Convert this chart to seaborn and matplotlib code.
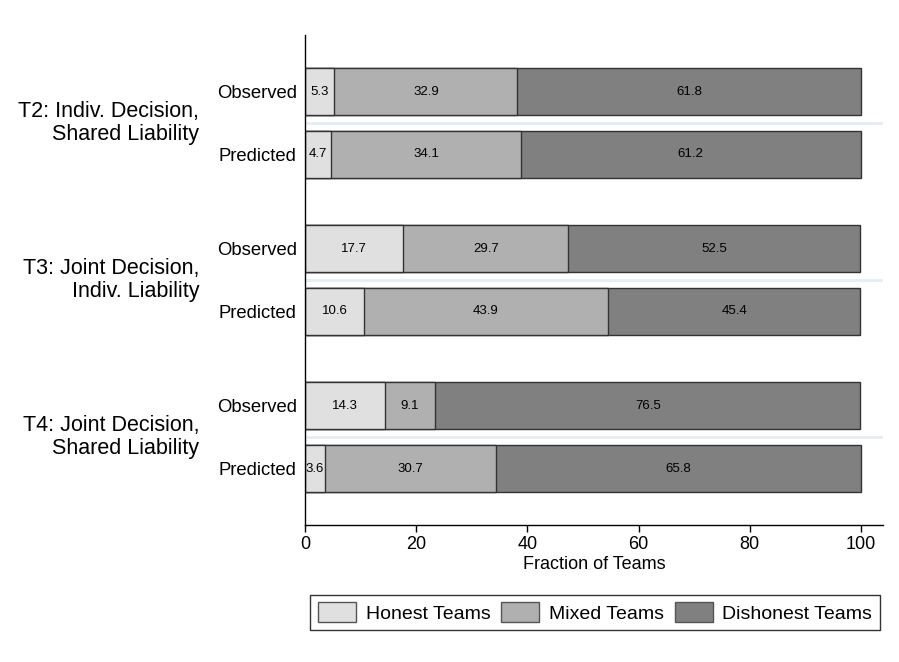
import numpy as np
import pandas as pd
import matplotlib
matplotlib.use("Agg")
import matplotlib.pyplot as plt
import matplotlib.transforms as mtransforms
from matplotlib.patches import Patch
import seaborn as sns

# ---------------------------
# Data
# ---------------------------
treatments = ["T2: Indiv. Decision,\nShared Liability",
              "T3: Joint Decision,\nIndiv. Liability",
              "T4: Joint Decision,\nShared Liability"]
row_labels = ["Observed", "Predicted"] * 3
honest = [5.3, 4.7, 17.7, 10.6, 14.3, 3.6]
mixed = [32.9, 34.1, 29.7, 43.9, 9.1, 30.7]
dishonest = [61.8, 61.2, 52.5, 45.4, 76.5, 65.8]
categories = ["Honest Teams", "Mixed Teams", "Dishonest Teams"]
colors = ["#e0e0e0", "#b0b0b0", "#808080"]

# row positions: pairs within a treatment, wider gap between treatments
row_pos = [0.0, 1.0, 2.5, 3.5, 5.0, 6.0]

df = pd.DataFrame({"pos": row_pos, "label": row_labels,
                   "honest": honest, "mixed": mixed, "dishonest": dishonest})
df["cum1"] = df["honest"]
df["cum2"] = df["honest"] + df["mixed"]
df["cum3"] = df["cum2"] + df["dishonest"]

# ---------------------------
# Plot
# ---------------------------
sns.set_theme(style="white")
plt.rcParams["font.family"] = ["Liberation Sans", "DejaVu Sans"]
plt.rcParams["text.color"] = "black"
plt.rcParams["axes.labelcolor"] = "black"
plt.rcParams["xtick.color"] = "black"
plt.rcParams["ytick.color"] = "black"

fig = plt.figure(figsize=(8.99, 6.62), dpi=100)
ax = fig.add_axes([0.3393, 0.2069, 0.643, 0.740])

# stacked bars drawn as overlapping cumulative totals, widest first
for col, color in zip(["cum3", "cum2", "cum1"], colors[::-1]):
    sns.barplot(data=df, x=col, y="pos", orient="y", native_scale=True,
                color=color, saturation=1, edgecolor="#333333", linewidth=1,
                width=0.75, errorbar=None, ax=ax)

# separators between observed / predicted rows
for t in range(3):
    ax.axhline((row_pos[2 * t] + row_pos[2 * t + 1]) / 2, color="#e6eef2", lw=2, zorder=0.5)

# segment value labels
for _, r in df.iterrows():
    starts = [0, r["cum1"], r["cum2"]]
    for s, v in zip(starts, [r["honest"], r["mixed"], r["dishonest"]]):
        ax.text(s + v / 2, r["pos"], f"{v:.1f}", ha="center", va="center",
                fontsize=9.5, color="black")

ax.set_xlim(0, 104)
ax.set_ylim(6.9, -0.9)
ax.set_xticks([0, 20, 40, 60, 80, 100])
ax.set_yticks(row_pos)
ax.set_yticklabels(row_labels)
ax.tick_params(axis="x", labelsize=13, length=5, width=1, color="black", direction="out", pad=3)
ax.tick_params(axis="y", labelsize=13.3, length=0, pad=6)
ax.xaxis.set_ticks_position("bottom")
ax.set_xlabel("Fraction of Teams", fontsize=13, labelpad=2)
ax.set_ylabel("")

for side in ["top", "right"]:
    ax.spines[side].set_visible(False)
for side in ["left", "bottom"]:
    ax.spines[side].set_color("black")
    ax.spines[side].set_linewidth(1)

# treatment group labels
trans = mtransforms.blended_transform_factory(ax.transAxes, ax.transData)
for t, name in enumerate(treatments):
    y = (row_pos[2 * t] + row_pos[2 * t + 1]) / 2
    ax.text(-0.183, y, name, transform=trans, ha="right", va="center",
            multialignment="right", fontsize=15.5, linespacing=1.1)

handles = [Patch(facecolor=c, edgecolor="#555555", lw=1) for c in colors]
leg = fig.legend(handles, categories, loc="center", bbox_to_anchor=(0.662, 0.0748),
                 ncol=3, fontsize=14, frameon=True, fancybox=False,
                 handlelength=1.95, handleheight=1.15, handletextpad=0.5,
                 columnspacing=0.55, borderpad=0.4, borderaxespad=0)
leg.get_frame().set_edgecolor("black")
leg.get_frame().set_linewidth(1)

fig.savefig("out.png", dpi=100)
